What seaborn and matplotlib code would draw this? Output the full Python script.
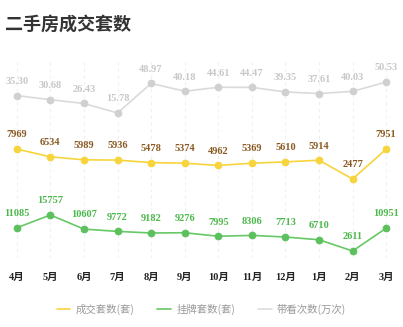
import matplotlib
matplotlib.use("Agg")
import matplotlib.pyplot as plt
from matplotlib.lines import Line2D
import seaborn as sns
import pandas as pd

months = ["4月", "5月", "6月", "7月", "8月", "9月", "10月", "11月", "12月", "1月", "2月", "3月"]
deals = [7969, 6534, 5989, 5936, 5478, 5374, 4962, 5369, 5610, 5914, 2477, 7951]
listings = [11085, 15757, 10607, 9772, 9182, 9276, 7995, 8306, 7713, 6710, 2611, 10951]
viewings = [35.30, 30.68, 26.43, 15.78, 48.97, 40.18, 44.61, 44.47, 39.35, 37.61, 40.03, 50.53]

df = pd.DataFrame({"month": months, "x": range(len(months)),
                   "deals": deals, "listings": listings, "viewings": viewings})

sns.set_theme(style="white")
plt.rcParams["font.family"] = ["Liberation Serif", "Noto Sans CJK SC", "DejaVu Sans"]

W, H = 403, 327
fig = plt.figure(figsize=(W / 100, H / 100), dpi=100)

def band(top, bottom):
    return fig.add_axes([0.0, 1 - bottom / H, 1.0, (bottom - top) / H])

ax_v = band(60, 125)
ax_d = band(125, 192)
ax_l = band(192, 258)

series = [
    (ax_v, "viewings", "#dadada", "#d0d0d0", "#c8c8c8", (2.3, 75.2), "{:.2f}"),
    (ax_d, "deals", "#f7d43c", "#f7d43c", "#8a5a22", (100, 12360), "{:d}"),
    (ax_l, "listings", "#66c866", "#5cc05c", "#4cb84c", (56, 24150), "{:d}"),
]

for ax, col, lc, mc, tc, ylim, fmt in series:
    sns.lineplot(data=df, x="x", y=col, ax=ax, color=lc, linewidth=1.2,
                 marker="o", markersize=4.8, markerfacecolor=mc,
                 markeredgecolor=mc, legend=False)
    for xi, v in zip(df["x"], df[col]):
        ax.annotate(fmt.format(v), (xi, v), xytext=(0, 7), textcoords="offset points",
                    ha="center", va="bottom", fontsize=7.5, fontweight="bold",
                    color=tc)
    ax.set_xlim(-0.5, len(months) - 0.5)
    ax.set_ylim(*ylim)
    ax.set_xlabel("")
    ax.set_ylabel("")
    ax.set_yticks([])
    ax.set_xticks(list(df["x"]))
    ax.tick_params(length=0, labelbottom=False)
    ax.patch.set_alpha(0)
    for s in ax.spines.values():
        s.set_visible(False)
    ax.grid(axis="x", color="#f0f0f0", linestyle=(0, (3, 3)), linewidth=0.8)
    ax.set_axisbelow(True)

# band separators
for ax in (ax_v, ax_d):
    ax.axhline(ax.get_ylim()[0], color="#e8e8e8", linestyle=(0, (3, 3)), linewidth=0.8)

# month labels under the lowest band
ax_l.tick_params(labelbottom=True, pad=11)
ax_l.set_xticklabels(months, fontsize=7.5, fontweight="bold", color="#222222",
                     family=["Liberation Serif", "Noto Sans CJK SC"])

fig.text(0.012, 1 - 24 / H, "二手房成交套数", fontsize=13, fontweight="bold",
         color="#333333", family=["Noto Sans CJK SC", "DejaVu Sans"], va="center")

handles = [Line2D([], [], color="#f7d43c", linewidth=1.2),
           Line2D([], [], color="#66c866", linewidth=1.2),
           Line2D([], [], color="#dddddd", linewidth=1.2)]
labels = ["成交套数(套)", "挂牌套数(套)", "带看次数(万次)"]
leg = fig.legend(handles, labels, loc="center", bbox_to_anchor=(0.5, 1 - 309 / H),
                 ncol=3, frameon=False, handlelength=1.3, handletextpad=0.5,
                 columnspacing=2.2,
                 prop={"family": ["Noto Sans CJK SC", "DejaVu Sans"], "size": 7.5})
for t in leg.get_texts():
    t.set_color("#999999")

fig.savefig("out.png", dpi=100, facecolor="white")
